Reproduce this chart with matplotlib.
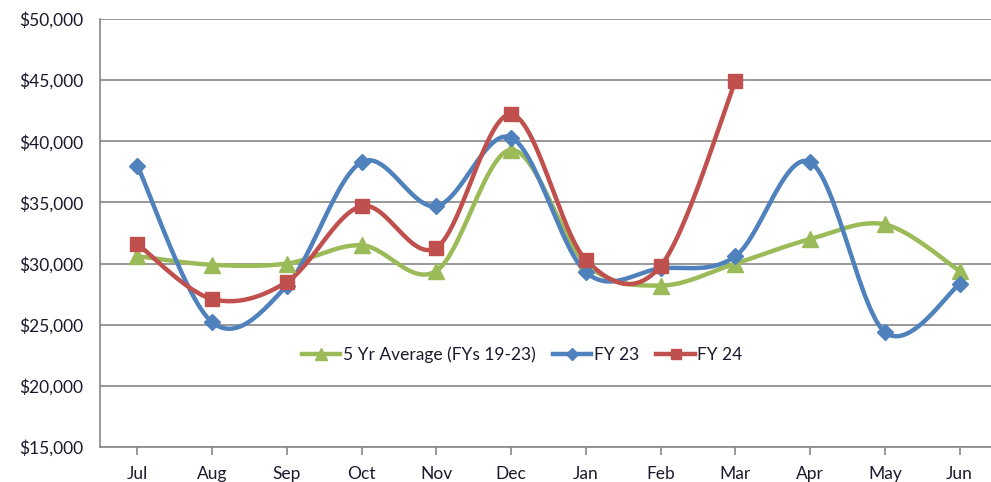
import numpy as np
import matplotlib
matplotlib.use("Agg")
import matplotlib.pyplot as plt
from matplotlib.ticker import FuncFormatter, MultipleLocator

months = ["Jul", "Aug", "Sep", "Oct", "Nov", "Dec", "Jan", "Feb", "Mar", "Apr", "May", "Jun"]
avg5 = [30600, 29900, 30000, 31500, 29400, 39300, 30000, 28200, 30000, 32000, 33200, 29400]
fy23 = [38000, 25200, 28200, 38300, 34700, 40300, 29300, 29600, 30600, 38300, 24400, 28300]
fy24 = [31600, 27100, 28500, 34700, 31300, 42200, 30300, 29800, 44900]

plt.rcParams['font.family'] = ['Lato', 'DejaVu Sans']
TXT = '#1a1a2e'

def smooth(x, y, n=30):
    x = np.asarray(x, float); y = np.asarray(y, float)
    px = np.concatenate([[x[0]], x, [x[-1]]])
    py = np.concatenate([[y[0]], y, [y[-1]]])
    xs, ys = [], []
    for i in range(1, len(px) - 2):
        p0 = np.array([px[i-1], py[i-1]]); p1 = np.array([px[i], py[i]])
        p2 = np.array([px[i+1], py[i+1]]); p3 = np.array([px[i+2], py[i+2]])
        c1 = p1 + (p2 - p0) / 6.0
        c2 = p2 - (p3 - p1) / 6.0
        t = np.linspace(0, 1, n)[:, None]
        b = ((1-t)**3)*p1 + 3*((1-t)**2)*t*c1 + 3*(1-t)*t**2*c2 + t**3*p2
        xs.append(b[:, 0]); ys.append(b[:, 1])
    return np.concatenate(xs), np.concatenate(ys)

fig = plt.figure(figsize=(9.91, 4.82), dpi=100)
ax = fig.add_axes([100/991, 35/482, 891/991, 428/482])

series = [
    (avg5, '#9BBB59', '^', 11, 8, "5 Yr Average (FYs 19-23)"),
    (fy23, '#4F81BD', 'D', 8, 6, "FY 23"),
    (fy24, '#C0504D', 's', 10, 7, "FY 24"),
]
for vals, col, mk, ms, lms, lab in series:
    xi = np.arange(len(vals))
    sx, sy = smooth(xi, vals)
    ax.plot(sx, sy, color=col, lw=3.2, solid_capstyle='round', zorder=3)
    ax.plot(xi, vals, linestyle='none', marker=mk, color=col, ms=ms, zorder=4)
    ax.plot([], [], color=col, lw=3.2, marker=mk, ms=lms, label=lab)

ax.set_ylim(15000, 50000)
ax.set_xlim(-0.5, 11.42)
ax.yaxis.set_major_locator(MultipleLocator(5000))
ax.yaxis.set_major_formatter(FuncFormatter(lambda v, p: f"${v:,.0f}"))
ax.set_xticks(range(len(months)))
ax.set_xticklabels(months)
ax.grid(axis='y', color='#868686', lw=1.2)
ax.set_axisbelow(True)
for s in ['top', 'right']:
    ax.spines[s].set_visible(False)
for s in ['left', 'bottom']:
    ax.spines[s].set_color('#868686')
    ax.spines[s].set_linewidth(1.2)
ax.tick_params(axis='x', direction='out', length=6, color='#868686', width=1.2, labelsize=12.5, labelcolor=TXT, pad=8)
ax.tick_params(axis='y', length=0, labelsize=12.5, labelcolor=TXT, pad=12)

leg = ax.legend(loc='center', bbox_to_anchor=(0.474, 0.215), ncol=3, frameon=False,
                fontsize=12.5, handlelength=2.2, handletextpad=0.15, columnspacing=1.0,
                labelcolor=TXT)

fig.savefig("out.png", dpi=100)
